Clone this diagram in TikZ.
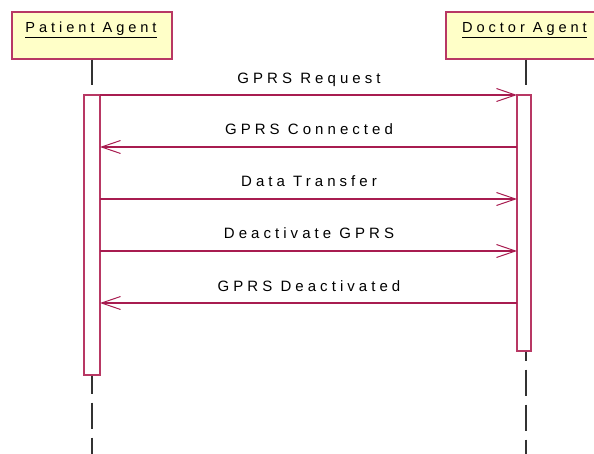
\documentclass[tikz,border=0pt]{standalone}
\usepackage{fontspec}
\setmainfont{Liberation Sans}
\newfontfamily\msgfont[LetterSpace=27]{Liberation Sans}
\usetikzlibrary{arrows.meta}
\definecolor{objedge}{RGB}{184,56,100}
\definecolor{objfill}{RGB}{255,255,200}
\definecolor{msgline}{RGB}{168,28,80}
\definecolor{lifegray}{RGB}{50,50,50}
\tikzset{
  objbox/.style={draw=objedge, fill=objfill, line width=1.2pt, minimum width=160pt, minimum height=47pt, inner sep=0pt},
  objname/.style={anchor=base, inner sep=0pt, font=\msgfont\fontsize{14.6}{15}\selectfont},
  actbox/.style={draw=objedge, fill=white, line width=1.2pt, inner sep=0pt},
  lifeline/.style={draw=lifegray, line width=1.5pt},
  msg/.style={draw=msgline, line width=1.1pt, -{Straight Barb[length=19pt,width=13pt,line width=1pt]}},
  msglabel/.style={font=\msgfont\fontsize{15}{16}\selectfont, inner sep=0pt, anchor=base}
}
\begin{document}
\begin{tikzpicture}[x=1pt,y=-1pt]
\useasboundingbox (0,0) rectangle (594,454);
\begin{scope}
\clip (0,0) rectangle (594,454);
% object boxes
\node[objbox] (pbox) at (92,35.5) {};
\node[objbox] (dbox) at (526,35.5) {};
\node[objname] (plabel) at (91,32.5) {\underline{Patient Agent}};
\node[objname] (dlabel) at (524.5,32.5) {\underline{Doctor Agent}};

% lifeline stubs above the activations
\coordinate (ptop) at (92,85);
\coordinate (dtop) at (526,85);
\draw[lifeline] (pbox.south) -- (ptop);
\draw[lifeline] (dbox.south) -- (dtop);

% activation bars
\node[actbox, minimum width=16pt, minimum height=280pt] (pact) at (92,235) {};
\node[actbox, minimum width=14pt, minimum height=256pt] (dact) at (524,223) {};

% dashed lifelines below the activations
\coordinate (pend) at (92,454);
\coordinate (dend) at (526,454);
\draw[lifeline, dash pattern=on 26pt off 9pt, dash phase=8pt] (pact.south) -- (pend);
\draw[lifeline, dash pattern=on 26pt off 9pt, dash phase=17pt] ([xshift=2pt]dact.south) -- (dend);

% messages
\coordinate (p1) at (100,95);  \coordinate (d1) at (517,95);
\coordinate (p2) at (100,147); \coordinate (d2) at (517,147);
\coordinate (p3) at (100,199); \coordinate (d3) at (517,199);
\coordinate (p4) at (100,251); \coordinate (d4) at (517,251);
\coordinate (p5) at (100,303); \coordinate (d5) at (517,303);

\draw[msg] (p1) -- (d1);
\draw[msg] (d2) -- (p2);
\draw[msg] (p3) -- (d3);
\draw[msg] (p4) -- (d4);
\draw[msg] (d5) -- (p5);

\node[msglabel] (m1) at (309,84) {GPRS Request};
\node[msglabel] (m2) at (309,135) {GPRS Connected};
\node[msglabel] (m3) at (309,187) {Data Transfer};
\node[msglabel] (m4) at (309,239) {Deactivate GPRS};
\node[msglabel] (m5) at (309,291) {GPRS Deactivated};
\end{scope}
\end{tikzpicture}
\end{document}
